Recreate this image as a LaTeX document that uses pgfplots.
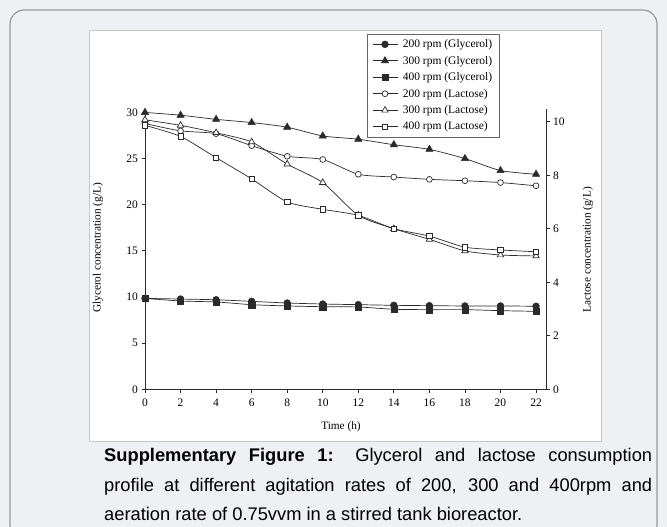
\documentclass[border=0pt]{standalone}
\usepackage{pgfplots}
\pgfplotsset{compat=1.18}
\usepackage{fontspec}
\setmainfont{Liberation Serif}
\newfontfamily\capfont{Liberation Sans}
\definecolor{bgc}{HTML}{EEF0F3}
\definecolor{ln}{HTML}{2A2A2A}

\pgfplotstableread{
t   G200  G300  G400  L200  L300  L400
0   9.85  30.0  9.85  28.8  29.2  28.6
2   9.78  29.7  9.57  28.0  28.6  27.4
4   9.70  29.25 9.46  27.7  27.8  25.1
6   9.53  28.9  9.17  26.4  26.8  22.8
8   9.35  28.4  9.03  25.25 24.4  20.3
10  9.24  27.45 8.95  24.9  22.4  19.5
12  9.17  27.1  8.92  23.3  18.85 18.85
14  9.10  26.5  8.67  23.0  17.4  17.4
16  9.06  26.0  8.63  22.75 16.25 16.6
18  9.03  25.0  8.63  22.6  15.0  15.4
20  9.03  23.7  8.52  22.4  14.55 15.1
22  9.00  23.3  8.45  22.05 14.45 14.9
}\data

\begin{document}
\begin{tikzpicture}[x=1pt,y=1pt]
\fill[bgc] (0,0) rectangle (667,527);
\begin{scope}
\clip (0,0) rectangle (667,527);
\draw[draw=black!40, line width=1.2pt, rounded corners=14pt] (10,517) rectangle (657,-12);
\end{scope}
\fill[white, draw=black!22, line width=0.8pt] (89,497) rectangle (601,86);
\coordinate (O) at (145,137.7);

\pgfplotsset{
  common/.style={
    at={(O)}, anchor=south west,
    scale only axis, width=401pt, height=280pt,
    xmin=0, xmax=22.56,
    axis line style={ln, line width=0.8pt, -},
    tick align=outside, major tick length=3.5pt,
    tick style={ln, line width=0.8pt},
    ticklabel style={font=\fontsize{11.5}{13}\selectfont},
    /pgf/number format/assume math mode=true,
    clip=false,
  },
  ser/.style={ln, line width=0.7pt, smooth, tension=0.4, mark options={solid, line width=1.4pt}},
}

\begin{axis}[common,
  ymin=0, ymax=30.34,
  axis x line*=bottom, axis y line*=left,
  xtick={0,2,...,22}, ytick={0,5,...,30},
  xticklabel style={yshift=-3pt},
  legend style={at={(0.553,1.27)}, anchor=north west, draw=black!60, line width=0.8pt,
    font=\fontsize{11.5}{13}\selectfont, row sep=3pt, inner xsep=5pt, inner ysep=3.5pt},
  legend cell align=left,
  legend image code/.code={\draw[mark repeat=2,mark phase=2,#1] plot coordinates {(0pt,0pt)(12.5pt,0pt)(25pt,0pt)}; \path (28pt,0pt);},
]
\addplot[ser, mark=*, mark size=3.4pt, mark options={fill=ln, line width=0.5pt}] table[x=t,y=G200]{\data};
\addlegendentry{200 rpm (Glycerol)}
\addplot[ser, mark=triangle*, mark size=4.2pt, mark options={fill=ln, line width=0.5pt}] table[x=t,y=G300]{\data};
\addlegendentry{300 rpm (Glycerol)}
\addplot[ser, mark=square*, mark size=3.1pt, mark options={fill=ln, line width=0.5pt}] table[x=t,y=G400]{\data};
\addlegendentry{400 rpm (Glycerol)}
\addplot[ser, mark=*, mark size=2.9pt, mark options={fill=white, draw=ln}] table[x=t,y=L200]{\data};
\addlegendentry{200 rpm (Lactose)}
\addplot[ser, mark=triangle*, mark size=3.7pt, mark options={fill=white, draw=ln}] table[x=t,y=L300]{\data};
\addlegendentry{300 rpm (Lactose)}
\addplot[ser, mark=square*, mark size=2.7pt, mark options={fill=white, draw=ln}] table[x=t,y=L400]{\data};
\addlegendentry{400 rpm (Lactose)}
\end{axis}

\begin{axis}[common,
  ymin=0, ymax=10.47,
  hide x axis, axis y line*=right,
  ytick={0,2,...,10},
]
\addplot[draw=none] coordinates {(0,0)};
\end{axis}

\node[rotate=90, font=\fontsize{11.3}{12}\selectfont] at (98,279) {Glycerol concentration (g/L)};
\node[rotate=90, font=\fontsize{11.3}{12}\selectfont] at (588,277) {Lactose concentration (g/L)};
\node[font=\fontsize{11.3}{12}\selectfont] at (341,100) {Time (h)};

\node[anchor=north west, inner sep=0pt, text width=548pt, align=justify,
  font=\capfont\fontsize{18.3}{29.5}\selectfont] at (104,78.5)
  {\hyphenpenalty=10000 \textbf{Supplementary Figure 1:} Glycerol and lactose consumption\linebreak
   profile at different agitation rates of 200, 300 and 400rpm and\linebreak
   aeration rate of 0.75vvm in a stirred tank bioreactor.};

\pgfresetboundingbox
\useasboundingbox (0,0) rectangle (667,527);
\end{tikzpicture}
\end{document}
